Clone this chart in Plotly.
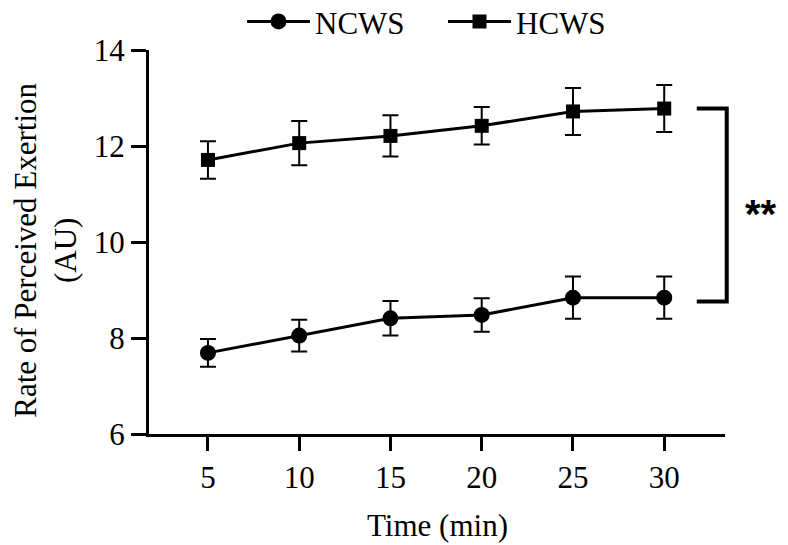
import plotly.graph_objects as go

time_min = [5, 10, 15, 20, 25, 30]
ncws_mean = [7.69, 8.05, 8.41, 8.48, 8.84, 8.84]
ncws_err = [0.29, 0.33, 0.36, 0.35, 0.44, 0.44]
hcws_mean = [11.71, 12.06, 12.21, 12.42, 12.72, 12.78]
hcws_err = [0.39, 0.46, 0.43, 0.39, 0.49, 0.49]
x_ticks = [5, 10, 15, 20, 25, 30]
y_ticks = [6, 8, 10, 12, 14]

FONT = "Liberation Serif"

fig = go.Figure()
fig.add_trace(go.Scatter(
    x=time_min, y=ncws_mean, name="NCWS", mode="lines+markers",
    line=dict(color="black", width=3),
    marker=dict(symbol="circle", size=16, color="black"),
    error_y=dict(type="data", array=ncws_err, color="black", thickness=2, width=8),
    cliponaxis=False,
))
fig.add_trace(go.Scatter(
    x=time_min, y=hcws_mean, name="HCWS", mode="lines+markers",
    line=dict(color="black", width=3),
    marker=dict(symbol="square", size=14, color="black"),
    error_y=dict(type="data", array=hcws_err, color="black", thickness=2, width=8),
    cliponaxis=False,
))

# significance bracket
top_y = hcws_mean[-1]
bot_y = ncws_mean[-1] - 0.08
fig.add_shape(type="path", xref="paper", yref="y",
              path=f"M 0.951 {top_y} L 1.003 {top_y} L 1.003 {bot_y} L 0.951 {bot_y}",
              line=dict(color="black", width=4))
fig.add_annotation(xref="paper", yref="y", x=1.062, y=(top_y + bot_y) / 2,
                   text="<b>**</b>", showarrow=False,
                   font=dict(family="Liberation Sans", size=40, color="black"),
                   xanchor="center", yanchor="middle", yshift=-9)

# axis titles
fig.add_annotation(xref="paper", yref="paper", x=0.5, y=-0.239,
                   text="Time (min)", showarrow=False,
                   font=dict(family=FONT, size=31, color="black"),
                   xanchor="center", yanchor="middle")
fig.add_annotation(xref="paper", yref="paper", x=-0.18, y=0.478,
                   text="Rate of Perceived Exertion<br>(AU)", showarrow=False,
                   textangle=-90,
                   font=dict(family=FONT, size=31, color="black"),
                   xanchor="center", yanchor="middle")

fig.update_layout(
    width=788, height=545,
    margin=dict(l=149, r=63, t=50, b=111, autoexpand=False),
    paper_bgcolor="white", plot_bgcolor="white",
    font=dict(family=FONT, size=31, color="black"),
    showlegend=True,
    legend=dict(orientation="h", x=242 / 788, xanchor="left", xref="container",
                y=0.96, yanchor="middle", yref="container",
                font=dict(family=FONT, size=31), itemwidth=63, entrywidth=123,
                bgcolor="rgba(0,0,0,0)"),
    xaxis=dict(range=[1.77, 33.33], tickvals=x_ticks, ticks="outside", ticklen=14,
               tickwidth=3, tickcolor="black", showline=True, linewidth=3,
               linecolor="black", showgrid=False, zeroline=False, automargin=False,
               tickfont=dict(family=FONT, size=31)),
    yaxis=dict(range=[6, 14], tickvals=y_ticks, ticks="outside", ticklen=15,
               tickwidth=3, tickcolor="black", showline=True, linewidth=3,
               linecolor="black", showgrid=False, zeroline=False, automargin=False,
               tickfont=dict(family=FONT, size=31)),
)

fig.write_html("out.html", config={"displayModeBar": False},
               post_script="document.body.style.margin='0';document.body.style.padding='0';")
